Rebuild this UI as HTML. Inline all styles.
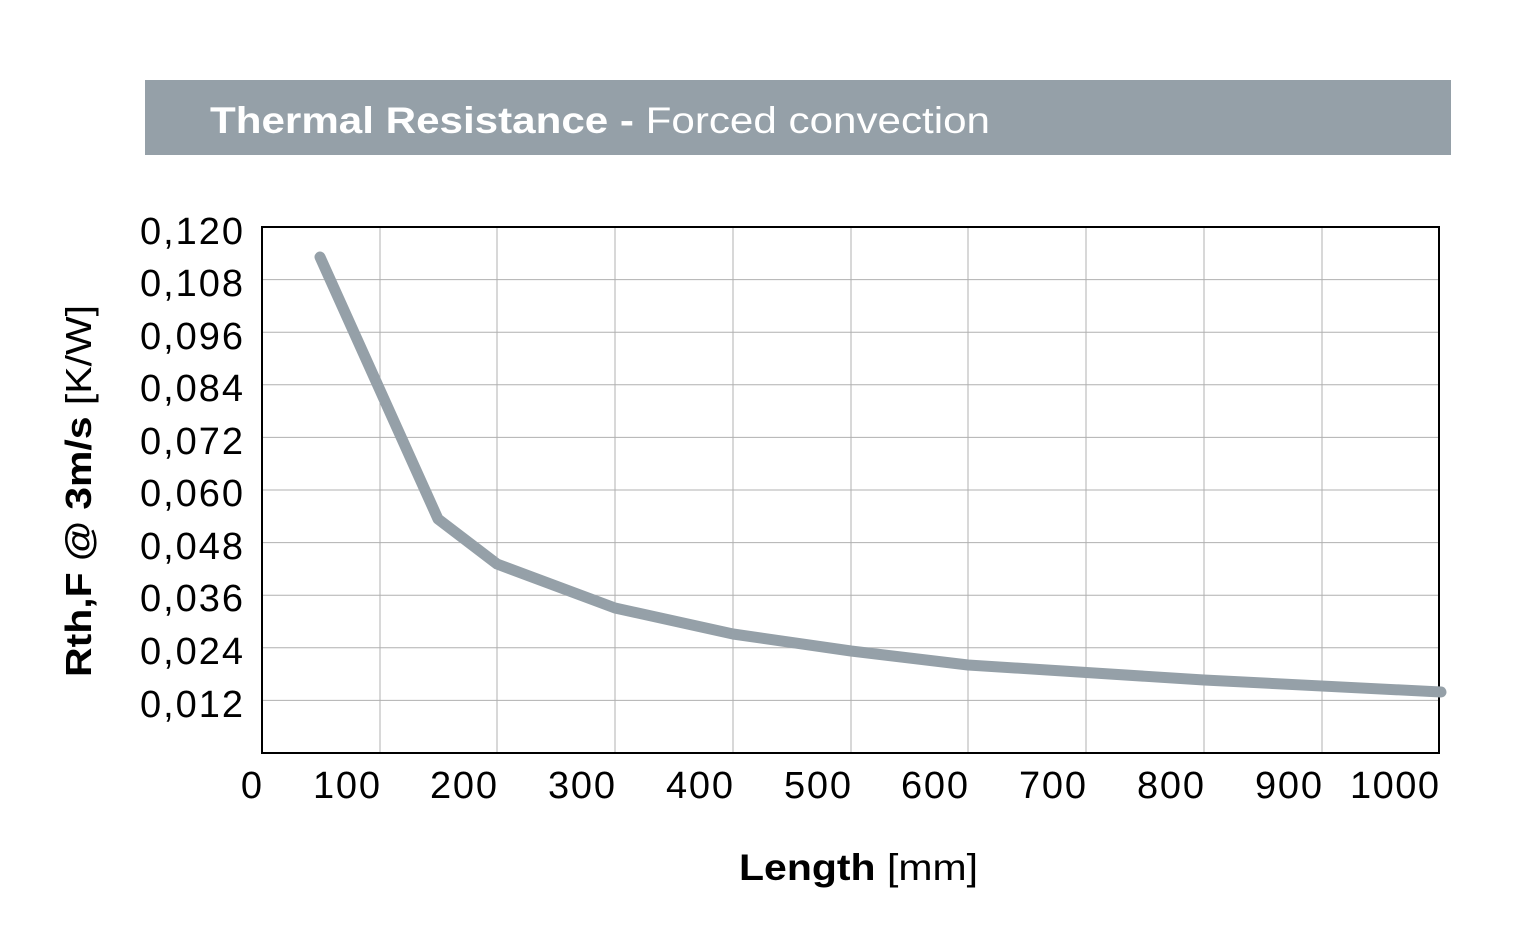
<!DOCTYPE html>
<html><head><meta charset="utf-8"><style>
html,body{margin:0;padding:0;background:#fff;}
svg{display:block;font-family:"Liberation Sans",Arial,sans-serif;}
</style></head><body>
<svg width="1526" height="947" viewBox="0 0 1526 947" xmlns="http://www.w3.org/2000/svg">
<rect x="145" y="80" width="1306" height="75" fill="#95a0a8"/>
<text x="210" y="133" font-size="37" fill="#fff" textLength="780" lengthAdjust="spacingAndGlyphs"><tspan font-weight="bold">Thermal Resistance - </tspan>Forced convection</text>
<g stroke="#b0b0b0" stroke-width="1">
<line x1="380" y1="227" x2="380" y2="753"/><line x1="497" y1="227" x2="497" y2="753"/>
<line x1="615" y1="227" x2="615" y2="753"/><line x1="733" y1="227" x2="733" y2="753"/>
<line x1="851" y1="227" x2="851" y2="753"/><line x1="968" y1="227" x2="968" y2="753"/>
<line x1="1086" y1="227" x2="1086" y2="753"/><line x1="1204" y1="227" x2="1204" y2="753"/>
<line x1="1322" y1="227" x2="1322" y2="753"/>
<line x1="262" y1="279.6" x2="1439" y2="279.6"/><line x1="262" y1="332.2" x2="1439" y2="332.2"/>
<line x1="262" y1="384.8" x2="1439" y2="384.8"/><line x1="262" y1="437.4" x2="1439" y2="437.4"/>
<line x1="262" y1="490" x2="1439" y2="490"/><line x1="262" y1="542.6" x2="1439" y2="542.6"/>
<line x1="262" y1="595.2" x2="1439" y2="595.2"/><line x1="262" y1="647.8" x2="1439" y2="647.8"/>
<line x1="262" y1="700.4" x2="1439" y2="700.4"/>
</g>
<rect x="262" y="227" width="1177" height="526" fill="none" stroke="#000" stroke-width="2"/>
<polyline points="320,257 438,519 497,564 615,608 733,634 851,651 968,665 1204,680 1441,692" fill="none" stroke="#95a0a8" stroke-width="11" stroke-linecap="round" stroke-linejoin="round"/>
<g font-size="38" fill="#000" text-anchor="end" lengthAdjust="spacingAndGlyphs">
<text x="243" y="244" textLength="103">0,120</text><text x="243" y="296" textLength="103">0,108</text><text x="243" y="349" textLength="103">0,096</text>
<text x="243" y="401" textLength="103">0,084</text><text x="243" y="454" textLength="103">0,072</text><text x="243" y="506" textLength="103">0,060</text>
<text x="243" y="559" textLength="103">0,048</text><text x="243" y="611" textLength="103">0,036</text><text x="243" y="664" textLength="103">0,024</text>
<text x="243" y="717" textLength="103">0,012</text>
<text x="262" y="798" textLength="21">0</text><text x="380" y="798" textLength="67">100</text><text x="497" y="798" textLength="67">200</text>
<text x="615" y="798" textLength="67">300</text><text x="733" y="798" textLength="67">400</text><text x="851" y="798" textLength="67">500</text>
<text x="968" y="798" textLength="67">600</text><text x="1086" y="798" textLength="67">700</text><text x="1204" y="798" textLength="67">800</text>
<text x="1322" y="798" textLength="67">900</text><text x="1439" y="798" textLength="89">1000</text>
</g>
<text x="739" y="880" font-size="37" textLength="239" lengthAdjust="spacingAndGlyphs"><tspan font-weight="bold">Length</tspan> [mm]</text>
<text transform="translate(91,677) rotate(-90)" font-size="36" textLength="372" lengthAdjust="spacingAndGlyphs"><tspan font-weight="bold">Rth,F @ 3m/s</tspan> [K/W]</text>
</svg>
</body></html>
